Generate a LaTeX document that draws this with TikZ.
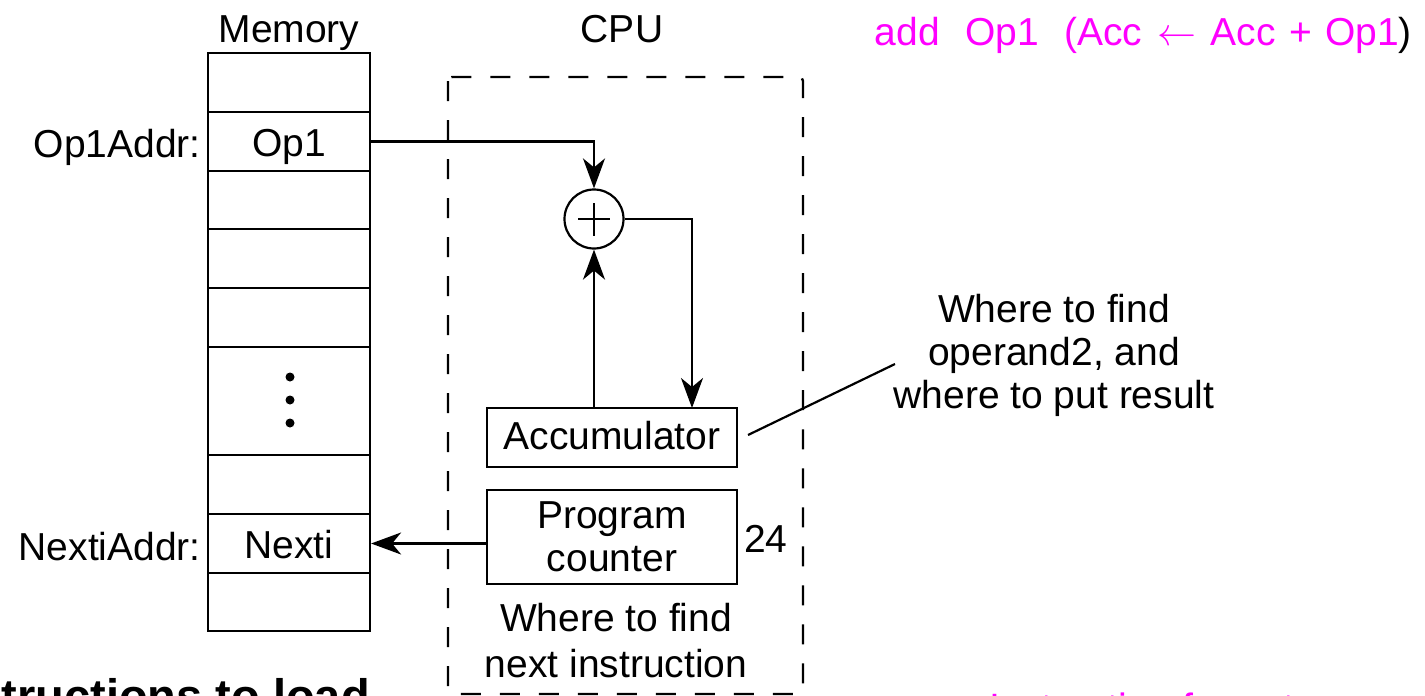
\RequirePackage{fix-cm}
\documentclass[tikz,border=0pt]{standalone}
\usepackage{fontspec}
\setmainfont{Liberation Sans}
\usetikzlibrary{arrows.meta}
\definecolor{mag}{RGB}{255,0,255}
\tikzset{
  base font/.style={font=\fontsize{39}{43}\selectfont},
  txt/.style={base font, inner sep=0pt},
  cell/.style={draw, line width=2.2pt, minimum width=162pt, inner sep=0pt, base font, text height=30pt, text depth=0pt},
  reg/.style={draw, line width=2.2pt, minimum width=250pt, inner sep=0pt, base font, align=center},
  wire/.style={line width=2.2pt},
  arr/.style={wire, -{Stealth[length=30pt, width=22pt, inset=9pt]}},
  cpubox/.style={line width=2.4pt, dash pattern=on 20pt off 19pt, rounded corners=4pt},
  dotc/.style={circle, fill=black, inner sep=0pt, minimum size=9pt},
}
\begin{document}
\begin{tikzpicture}[x=1pt, y=-1pt]
\useasboundingbox (0,0) rectangle (1425,696);
\clip (0,0) rectangle (1425,696);
\fill[white] (0,0) rectangle (1425,696);

% memory column
\node[cell, minimum height=59pt] (m1) at (289,82.5) {};
\node[cell, minimum height=59pt] (m2) at (289,141.5) {Op1};
\node[cell, minimum height=58pt] (m3) at (289,200) {};
\node[cell, minimum height=59pt] (m4) at (289,258.5) {};
\node[cell, minimum height=59pt] (m5) at (289,317.5) {};
\node[cell, minimum height=108pt] (m6) at (289,401) {};
\node[cell, minimum height=59pt] (m7) at (289,484.5) {};
\node[cell, minimum height=59pt] (m8) at (289,543.5) {Nexti};
\node[cell, minimum height=58pt] (m9) at (289,602) {};
\node[dotc] (d1) at (290,377) {};
\node[dotc] (d2) at (290,400) {};
\node[dotc] (d3) at (290,423) {};

\node[txt, anchor=base] (memlbl) at (289,42) {Memory};
\node[txt, anchor=base east] (op1lbl) at (201,157) {Op1Addr:};
\node[txt, anchor=base east] (nxlbl) at (201,560) {NextiAddr:};

% CPU
\draw[cpubox] (448,77) rectangle (803,694);
\node[txt, anchor=base] (cpulbl) at (622,42) {CPU};

\node[draw, circle, line width=2.2pt, minimum size=59pt, inner sep=0pt] (add) at (594,219) {};
\draw[line width=1.8pt] ([xshift=-16pt]add.center) -- ([xshift=16pt]add.center)
  ([yshift=-16.5pt]add.center) -- ([yshift=16.5pt]add.center);

\node[reg, minimum height=59pt, text height=23pt, text depth=0pt] (acc) at (612,437.5) {Accumulator};
\node[reg, minimum height=94pt] (pc) at (612,537) {Program\\counter};
\node[txt, anchor=base west] (pcval) at (744,552) {24};

\coordinate (accin) at (692,408);
\coordinate (notefrom) at (748,435);
\coordinate (noteto) at (895,364);

\draw[arr] (m2.east) -| (add.north);
\draw[arr] (add.east) -| (accin);
\draw[arr] (acc.north -| add.south) -- (add.south);
\draw[arr] (pc.west |- m8.east) -- (m8.east);
\draw[wire] (notefrom) -- (noteto);

\node[txt, align=center, anchor=north] (note) at (1054,294) {Where to find\\operand2, and\\where to put result};
\node[inner sep=0pt, align=center, anchor=north, font=\fontsize{39}{46}\selectfont] (pcnote) at (616,603) {Where to find\\next instruction};

% magenta
\node[txt, anchor=base west, text=mag] (instr) at (874.5,45) {add\hspace{25.5pt}Op1\hspace{25.5pt}(Acc\hspace{15pt}$\leftarrow$\hspace{14pt}Acc\hspace{14pt}+\hspace{13pt}Op1\textcolor{black}{)}};
\node[inner sep=0pt, anchor=base west, text=mag, font=\fontsize{39.5}{44}\selectfont] (fmt) at (989,721) {Instruction format};
\node[inner sep=0pt, anchor=base east, font=\fontsize{47}{52}\selectfont\bfseries] (load) at (370,712) {Instructions to load};
\end{tikzpicture}
\end{document}
